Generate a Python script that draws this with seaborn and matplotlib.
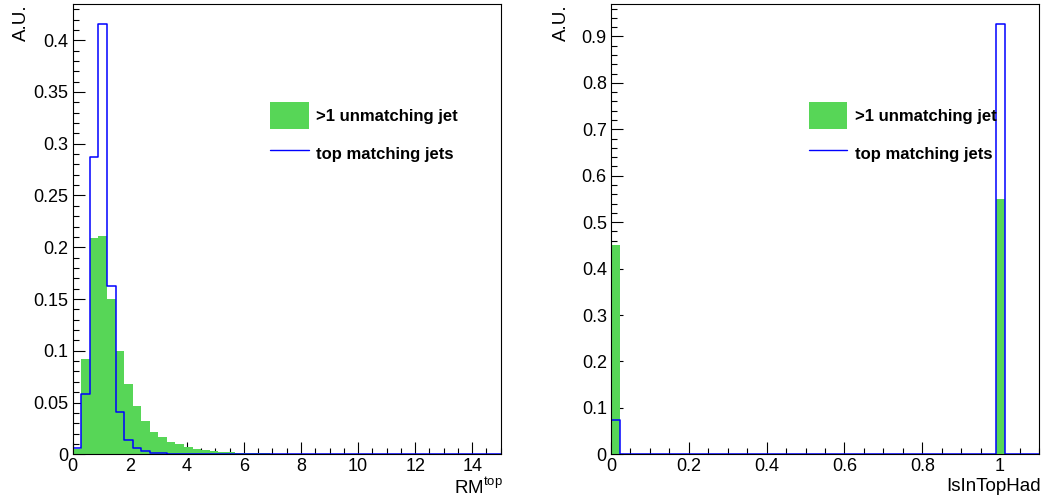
import numpy as np
import pandas as pd
import matplotlib
matplotlib.use("Agg")
import matplotlib.pyplot as plt
from matplotlib.patches import Patch
from matplotlib.lines import Line2D
from matplotlib.ticker import MultipleLocator, FuncFormatter
import seaborn as sns

# --- datos (histogramas normalizados, A.U.) ---
rm_edges = np.linspace(0, 15, 51)          # 50 bins de 0.3
rm_unmatched = [0.005, 0.092, 0.209, 0.211, 0.150, 0.100, 0.068, 0.047, 0.032, 0.022,
                0.017, 0.012, 0.0095, 0.007, 0.0055, 0.004, 0.003, 0.0025, 0.002, 0.0015,
                0.0012, 0.001, 0.0008, 0.0006, 0.0005, 0.0004, 0.0003, 0.0003, 0.0002, 0.0002,
                0.0001, 0.0001, 0.0001, 0, 0, 0, 0, 0, 0, 0,
                0, 0, 0, 0, 0, 0, 0, 0, 0, 0]
rm_matched = [0.006, 0.058, 0.287, 0.416, 0.163, 0.041, 0.0135, 0.0065, 0.0032, 0.0015,
              0.001, 0.0006, 0.0004, 0.0003, 0.0002, 0.0001, 0, 0, 0, 0,
              0, 0, 0, 0, 0, 0, 0, 0, 0, 0,
              0, 0, 0, 0, 0, 0, 0, 0, 0, 0,
              0, 0, 0, 0, 0, 0, 0, 0, 0, 0]

had_edges = np.linspace(0, 1.1, 51)        # 50 bins de 0.022
had_unmatched = [0.0] * 50
had_matched = [0.0] * 50
had_unmatched[0], had_unmatched[45] = 0.45, 0.55
had_matched[0], had_matched[45] = 0.073, 0.927

labels = [">1 unmatching jet", "top matching jets"]
GREEN = "#57d657"
BLUE = "#0000ff"

sns.set_style("white")
plt.rcParams["font.family"] = ["Liberation Sans", "DejaVu Sans"]
plt.rcParams["mathtext.fontset"] = "custom"
plt.rcParams["mathtext.rm"] = "Liberation Sans"
for k in ("text.color", "axes.labelcolor", "xtick.color", "ytick.color"):
    plt.rcParams[k] = "black"

fig = plt.figure(figsize=(10.48, 5.04), dpi=100)
ax_l = fig.add_axes([0.0694, 0.0986, 0.4084, 0.8935])
ax_r = fig.add_axes([0.5830, 0.0986, 0.4084, 0.8935])

root_fmt = FuncFormatter(lambda v, pos: f"{v:.10g}" if abs(v) > 1e-9 else "0")


def draw_panel(ax, edges, unmatched, matched, xlim, ylim, xmaj, xmin, ymaj, ymin, xlabel, ylab_x):
    centers = 0.5 * (edges[:-1] + edges[1:])
    df = pd.DataFrame({"x": centers, "unmatched": unmatched, "matched": matched})
    bins = list(edges)
    sns.histplot(data=df, x="x", weights="unmatched", bins=bins, element="bars", fill=True,
                 color=GREEN, alpha=1, linewidth=0, ax=ax)
    sns.histplot(data=df, x="x", weights="matched", bins=bins, element="step", fill=False,
                 color=BLUE, linewidth=1.1, ax=ax)
    ax.set_xlim(*xlim)
    ax.set_ylim(*ylim)
    ax.xaxis.set_major_locator(MultipleLocator(xmaj))
    ax.xaxis.set_minor_locator(MultipleLocator(xmin))
    ax.yaxis.set_major_locator(MultipleLocator(ymaj))
    ax.yaxis.set_minor_locator(MultipleLocator(ymin))
    ax.xaxis.set_major_formatter(root_fmt)
    ax.yaxis.set_major_formatter(root_fmt)
    ax.tick_params(which="both", direction="in", bottom=True, left=True, top=False, right=False,
                   width=0.8, color="black")
    ax.tick_params(which="major", length=8.5, labelsize=13, pad=3)
    ax.tick_params(which="minor", length=4.3)
    for sp in ax.spines.values():
        sp.set_visible(True)
        sp.set_color("black")
        sp.set_linewidth(0.8)

    ax.set_xlabel(xlabel, fontsize=13.5, loc="right")
    ax.xaxis.set_label_coords(1.005, -0.052)
    ax.set_ylabel("A.U.", fontsize=13.5, loc="top")
    ax.yaxis.set_label_coords(ylab_x, 1.0)

    handles = [Patch(facecolor=GREEN, edgecolor="none"),
               Line2D([], [], color=BLUE, linewidth=1.0)]
    ax.legend(handles, labels, loc="upper left", bbox_to_anchor=(0.462, 0.782),
              frameon=False, borderpad=0, borderaxespad=0,
              handlelength=2.3, handleheight=2.1, handletextpad=0.45,
              labelspacing=0.7, prop={"weight": "bold", "size": 12})


draw_panel(ax_l, rm_edges, rm_unmatched, rm_matched, (0, 15), (0, 0.435),
           2, 0.5, 0.05, 0.01, r"RM$^{\rm top}$", -0.10)
draw_panel(ax_r, had_edges, had_unmatched, had_matched, (0, 1.1), (0, 0.97),
           0.2, 0.05, 0.1, 0.02, "IsInTopHad", -0.095)

fig.savefig("out.png", dpi=100)
